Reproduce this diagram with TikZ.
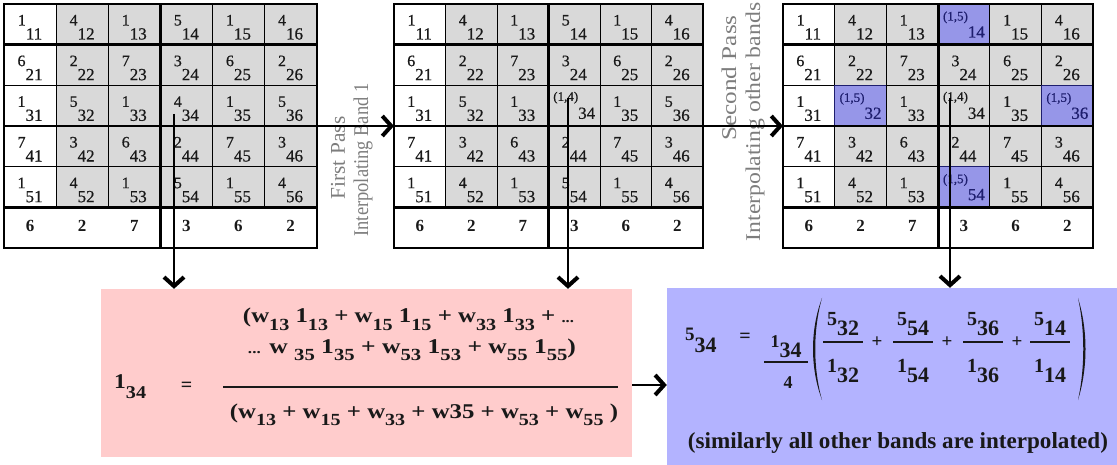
\documentclass[tikz,border=0pt]{standalone}
\usepackage{fontspec}
\setmainfont{Liberation Serif}
\newfontfamily\cellfont[FakeBold=0.6]{Liberation Serif}
\usepackage{graphicx}
\usetikzlibrary{arrows.meta,calc}
\definecolor{cellgray}{RGB}{217,217,217}
\definecolor{hlblue}{RGB}{150,150,232}
\definecolor{navy}{RGB}{30,30,110}
\definecolor{pinkbg}{RGB}{255,204,204}
\definecolor{bluebg}{RGB}{179,179,255}
\definecolor{labgray}{RGB}{125,125,125}
\definecolor{ink}{RGB}{25,25,25}
\colorlet{fillw}{white}
\colorlet{fillg}{cellgray}
\colorlet{fillp}{cellgray}
\colorlet{fillh}{hlblue}
\colorlet{draww}{black}
\colorlet{drawg}{black}
\colorlet{drawp}{black}
\colorlet{drawh}{navy}
\newcommand\fsz[1]{\fontsize{#1}{#1}\selectfont}
\newcommand\labw[2]{\raisebox{7pt}{\fsz{16}#1}\raisebox{-7pt}{\fsz{17}#2}}
\newcommand\labg[2]{\raisebox{7pt}{\fsz{16}#1}\raisebox{-7pt}{\fsz{17}#2}}
\newcommand\labp[2]{\raisebox{13pt}{\fsz{13}#1}\raisebox{-5pt}{\fsz{17}#2}}
\newcommand\labh[2]{\color{navy}\raisebox{12pt}{\fsz{13}#1}\raisebox{-5pt}{\fsz{17}#2}}
\newcommand\sbp[1]{\raisebox{-7pt}{\fsz{17}#1}}
\newcommand\grid[4]{%
  \foreach \t/\m/\s [count=\i from 0] in {#4} {%
    \pgfmathtruncatemacro\r{int(\i/6)}%
    \pgfmathtruncatemacro\c{mod(\i,6)}%
    \pgfmathsetmacro\x{#2+\c*#3}%
    \pgfmathsetmacro\y{4+\r*40.67}%
    \node[cell,fill=fill\t,draw=draw\t,minimum width=#3pt] (#1-\r-\c) at (\x,\y) {};
    \node[lab] (#1-\r-\c-t) at ($(#1-\r-\c.north)+(0,28.5)$) {\csname lab\t\endcsname{\m}{\s}};
  }%
  \foreach \v [count=\c from 0] in {6,2,7,3,6,2} {%
    \pgfmathsetmacro\x{#2+\c*#3}%
    \node[cell,fill=white,minimum width=#3pt] (#1-5-\c) at (\x,{4+5*40.67}) {};
    \node[bot] (#1-5-\c-t) at ($(#1-5-\c.center)+(0,-2)$) {\v};
  }%
  \draw[mid] (#1-3-0.north west) -- (#1-3-5.north east);
  \draw[thk] (#1-1-0.north west) -- (#1-1-5.north east);
  \draw[thk] (#1-5-0.north west) -- (#1-5-5.north east);
  \draw[thk] (#1-0-3.north west) -- (#1-5-3.south west);
  \draw[brd] (#1-0-0.north west) rectangle (#1-5-5.south east);
}
\begin{document}
\begin{tikzpicture}[x=1pt,y=-1pt,
  cell/.style={line width=0.9pt,anchor=north west,inner sep=0,outer sep=0,minimum height=40.67pt},
  lab/.style={anchor=base,inner sep=0,text=ink,font=\cellfont},
  bot/.style={inner sep=0,text=ink,font=\fsz{17}\bfseries},
  thk/.style={line width=3pt},
  mid/.style={line width=1.6pt},
  brd/.style={line width=1.8pt},
  rot/.style={rotate=90,text=labgray,font=\fsz{21},inner sep=0},
  arr/.style={line width=1.3pt,-{Straight Barb[length=9pt,width=20pt,line width=4pt]}},
  fb/.style={inner sep=0,text=ink,font=\bfseries},
  bar/.style={line width=1.5pt,draw=ink}]
\useasboundingbox (0,0) rectangle (1117,465);

\grid{g1}{4}{52.1}{w/1/11,g/4/12,g/1/13,g/5/14,g/1/15,g/4/16,
 w/6/21,g/2/22,g/7/23,g/3/24,g/6/25,g/2/26,
 w/1/31,g/5/32,g/1/33,g/4/34,g/1/35,g/5/36,
 w/7/41,g/3/42,g/6/43,g/2/44,g/7/45,g/3/46,
 w/1/51,g/4/52,g/1/53,g/5/54,g/1/55,g/4/56}
\grid{g2}{394}{51.5}{w/1/11,g/4/12,g/1/13,g/5/14,g/1/15,g/4/16,
 w/6/21,g/2/22,g/7/23,g/3/24,g/6/25,g/2/26,
 w/1/31,g/5/32,g/1/33,p/{(1,4)}/34,g/1/35,g/5/36,
 w/7/41,g/3/42,g/6/43,g/2/44,g/7/45,g/3/46,
 w/1/51,g/4/52,g/1/53,g/5/54,g/1/55,g/4/56}
\grid{g3}{783}{51.7}{w/1/11,g/4/12,g/1/13,h/{(1,5)}/14,g/1/15,g/4/16,
 w/6/21,g/2/22,g/7/23,g/3/24,g/6/25,g/2/26,
 w/1/31,h/{(1,5)}/32,g/1/33,p/{(1,4)}/34,g/1/35,h/{(1,5)}/36,
 w/7/41,g/3/42,g/6/43,g/2/44,g/7/45,g/3/46,
 w/1/51,g/4/52,g/1/53,h/{(1,5)}/54,g/1/55,g/4/56}

% rotated labels
\node[rot] (l1a) at (338,158) {\scalebox{1.02}[1]{First Pass}};
\node[rot] (l1b) at (363,160) {\scalebox{0.88}[1]{Interpolating Band 1}};
\node[rot] (l2a) at (729,78) {\scalebox{1.2}[1]{Second Pass}};
\node[rot] (l2b) at (755,122) {\scalebox{1.13}[1]{Interpolating other bands}};

% boxes
\node[fill=pinkbg,minimum width=531pt,minimum height=168pt,inner sep=0] (pink) at (366.5,373) {};
\node[fill=bluebg,minimum width=450pt,minimum height=177pt,inner sep=0] (blue) at (892,376.5) {};

% pink formula
\node[fb,anchor=base west] (p134) at (114,388) {\resizebox{32pt}{\height}{\fsz{21}1\raisebox{-10pt}{\fsz{18}34}}};
\node[fb] (peq) at (186.5,387) {\fsz{20}=};
\node[fb,anchor=base] (pn1) at (408.5,323) {\resizebox{331pt}{\height}{\fsz{21}(w\sbp{13} 1\sbp{13} + w\sbp{15} 1\sbp{15} + w\sbp{33} 1\sbp{33} + {\fsz{14}...}}};
\node[fb,anchor=base] (pn2) at (412,353) {\resizebox{328pt}{\height}{\fsz{21}{\fsz{14}...} w \sbp{35} 1\sbp{35} + w\sbp{53} 1\sbp{53} + w\sbp{55} 1\sbp{55})}};
\draw[bar] (223,387) -- (618,387);
\node[fb,anchor=base] (pd) at (424,418) {\resizebox{388pt}{\height}{\fsz{21}(w\sbp{13} + w\sbp{15} + w\sbp{33} + w35 + w\sbp{53} + w\sbp{55} )}};

% blue formula
\node[fb,anchor=base west] (b534) at (685,340) {\fsz{19}5\raisebox{-13pt}{\fsz{22}34}};
\node[fb] (beq) at (745,338) {\fsz{20}=};
\node[fb,anchor=base] (b134) at (786,347) {\fsz{18}1\raisebox{-10pt}{\fsz{22}34}};
\draw[bar] (764,362) -- (808,362);
\node[fb,anchor=base] (b4) at (788,388) {\fsz{18}4};
\fill[ink] (822,298) .. controls (810,330) and (810,368) .. (822,400) .. controls (813,368) and (813,330) .. (822,298) -- cycle;
\fill[ink] (1078,298) .. controls (1088,330) and (1088,368) .. (1078,400) .. controls (1085,368) and (1085,330) .. (1078,298) -- cycle;
\foreach \cx/\n in {843/32,913/54,983/36,1050/14} {
  \node[fb,anchor=base] (bn\n) at (\cx,325) {\fsz{20}5\raisebox{-10pt}{\fsz{22}\n}};
  \draw[bar] (\cx-20,342) -- (\cx+20,342);
  \node[fb,anchor=base] (bd\n) at (\cx,372) {\fsz{20}1\raisebox{-10pt}{\fsz{22}\n}};
}
\foreach \px in {877,947,1017} {
  \node[fb] (bp\px) at (\px,342) {\fsz{19}+};
}
\node[fb,anchor=base] (sim) at (898,448) {\resizebox{420pt}{\height}{\fsz{23}(similarly all other bands are interpolated)}};

% connectors
\coordinate (s1) at (174,114);
\coordinate (s2) at (568,98);
\coordinate (s3) at (950,98);
\draw[arr] (s1) -- (s1 |- pink.north);
\draw[arr] (s2) -- (s2 |- pink.north);
\draw[arr] (s3) -- (s3 |- blue.north);
\draw[arr] (g1-2-5.south east) -- (g2-2-0.south west);
\draw[arr] (g2-2-5.south east) -- (g3-2-0.south west);
\draw[arr] ([yshift=-12pt]pink.east) -- ([yshift=-12pt]pink.east -| blue.west);
\end{tikzpicture}
\end{document}
